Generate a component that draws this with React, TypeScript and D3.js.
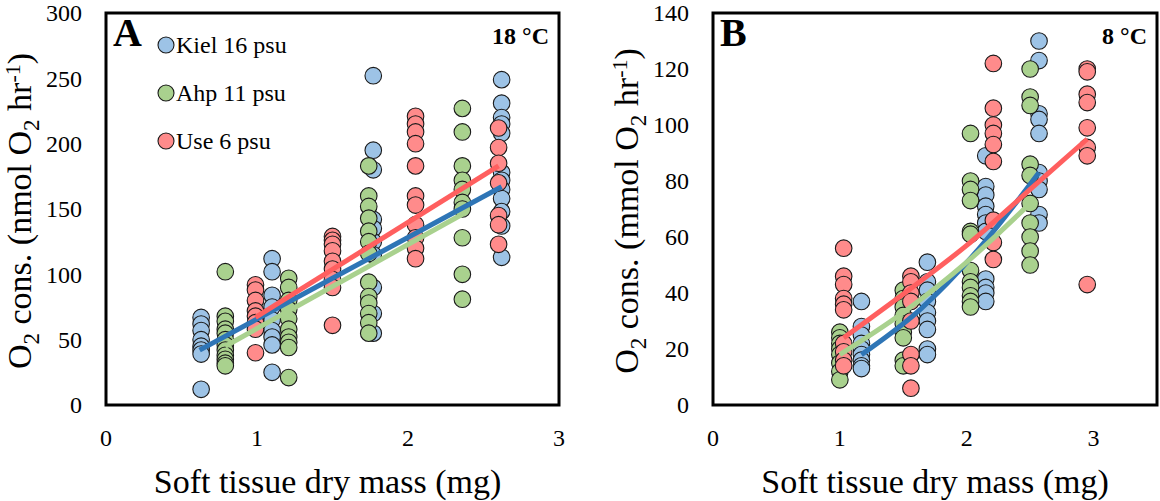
import React from "react";
import * as d3 from "d3";

// ---------- Data: Panel A (18 °C) ----------
const aKielX = [0.63, 1.1, 1.77, 2.62];
const aKielY = [
  [67, 62, 57, 50, 45, 42, 39, 12],
  [112, 102, 84, 75, 65, 57, 52, 46, 25],
  [252, 195, 180, 142, 135, 125, 115, 90, 70, 55],
  [249, 231, 220, 215, 208, 178, 172, 165, 158, 148, 137, 113],
];
const aAhpX = [0.79, 1.21, 1.74, 2.36];
const aAhpY = [
  [102, 68, 64, 58, 55, 50, 46, 42, 38, 35, 32, 30],
  [97, 90, 80, 73, 66, 58, 52, 48, 44, 21],
  [183, 160, 152, 143, 133, 125, 116, 94, 83, 78, 70, 63, 55],
  [227, 209, 183, 172, 165, 155, 150, 128, 100, 81],
];
const aUseX = [0.99, 1.5, 2.05, 2.6];
const aUseY = [
  [92, 88, 80, 72, 68, 63, 58, 40],
  [129, 126, 123, 118, 110, 104, 96, 90, 61],
  [221, 215, 209, 200, 183, 160, 153, 138, 128, 120, 112],
  [212, 197, 185, 170, 145, 138, 123],
];
// trend lines [x, y]
const aKielTrend = [[0.62, 42], [2.62, 167]];
const aAhpTrend = [[0.79, 45], [2.36, 146]];
const aUseTrend = [[0.99, 67], [2.6, 183]];

// ---------- Data: Panel B (8 °C) ----------
const bKielX = [1.17, 1.69, 2.15, 2.57];
const bKielY = [
  [37, 28, 25, 22, 20, 18, 16, 14, 13],
  [51, 44, 41, 37, 33, 30, 27, 20, 18],
  [89, 78, 75, 71, 68, 65, 62, 45, 42, 40, 37],
  [130, 123, 104, 102, 97, 83, 80, 77, 68, 65],
];
const bAhpX = [1.0, 1.5, 2.03, 2.5];
const bAhpY = [
  [26, 24, 22, 20, 18, 15, 12, 9],
  [41, 38, 35, 32, 29, 26, 24, 16, 14],
  [97, 80, 77, 73, 62, 61, 48, 44, 42, 39, 37, 35],
  [120, 110, 107, 86, 82, 72, 65, 60, 55, 50],
];
const bUseX = [1.03, 1.56, 2.21, 2.95];
const bUseY = [
  [56, 46, 43, 38, 36, 34, 22, 19, 16, 14],
  [46, 44, 40, 37, 30, 18, 14, 6],
  [122, 106, 100, 97, 93, 87, 66, 58, 52],
  [120, 119, 111, 108, 99, 92, 89, 43],
];
const bKielTrend = [[1.17, 18], [1.63, 34], [2.1, 56], [2.57, 83]];
const bAhpTrend = [[1.0, 18], [1.5, 33], [2.0, 51], [2.5, 72]];
const bUseTrend = [[1.03, 24], [1.63, 44], [2.0, 57], [2.5, 77], [2.95, 95]];

const xTicks = [0, 1, 2, 3];
const aYTicks = [0, 50, 100, 150, 200, 250, 300];
const bYTicks = [0, 20, 40, 60, 80, 100, 120, 140];
const seriesNames = ["Kiel 16 psu", "Ahp 11 psu", "Use 6 psu"];

const fills = ["#9DC3E6", "#A9D18E", "#FF8B8B"];
const lineColors = ["#2E75B6", "#A9D18E", "#FF5F5F"];
const FONT = "'Liberation Serif', 'Times New Roman', serif";

type Panel = {
  left: number; right: number; top: number; bottom: number;
  xMax: number; yMax: number; yTicks: number[];
  xs: number[][]; ys: number[][][]; trends: number[][][];
  letter: string; temp: string; unit: string;
  legend: boolean; titleShift: number;
};

const panels: Panel[] = [
  {
    left: 106, right: 559, top: 13, bottom: 405, xMax: 3, yMax: 300, yTicks: aYTicks,
    xs: [aKielX, aAhpX, aUseX], ys: [aKielY, aAhpY, aUseY],
    trends: [aKielTrend, aAhpTrend, aUseTrend],
    letter: "A", temp: "18 °C", unit: "nmol", legend: true, titleShift: -5,
  },
  {
    left: 713, right: 1157, top: 13, bottom: 405, xMax: 3.5, yMax: 140, yTicks: bYTicks,
    xs: [bKielX, bAhpX, bUseX], ys: [bKielY, bAhpY, bUseY],
    trends: [bKielTrend, bAhpTrend, bUseTrend],
    letter: "B", temp: "8 °C", unit: "mmol", legend: false, titleShift: 0,
  },
];

function PanelView({ p }: { p: Panel }) {
  const x = d3.scaleLinear().domain([0, p.xMax]).range([p.left, p.right]);
  const y = d3.scaleLinear().domain([0, p.yMax]).range([p.bottom, p.top]);
  const line = d3
    .line<number[]>()
    .x((d) => x(d[0]))
    .y((d) => y(d[1]))
    .curve(d3.curveMonotoneX);
  const midY = (p.top + p.bottom) / 2 + 2;
  const midX = (p.left + p.right) / 2 + p.titleShift;
  return (
    <g>
      {/* y tick labels */}
      {p.yTicks.map((t) => (
        <text key={"y" + t} x={p.left - 24} y={y(t)} dy="0.35em" textAnchor="end"
          fontSize={24} fontFamily={FONT} fill="#000">{t}</text>
      ))}
      {/* x tick labels */}
      {xTicks.map((t) => (
        <text key={"x" + t} x={x(t)} y={446} textAnchor="middle"
          fontSize={24} fontFamily={FONT} fill="#000">{t}</text>
      ))}
      {/* axis titles */}
      <text x={midX} y={493} textAnchor="middle" fontSize={34} fontFamily={FONT}>
        Soft tissue dry mass (mg)
      </text>
      <text transform={`translate(${p.left - 75},${midY}) rotate(-90)`} textAnchor="middle"
        fontSize={34} fontFamily={FONT}>
        <tspan>O</tspan>
        <tspan dy={8} fontSize={23}>2</tspan>
        <tspan dy={-8}>{` cons. (${p.unit} O`}</tspan>
        <tspan dy={8} fontSize={23}>2</tspan>
        <tspan dy={-8}> hr</tspan>
        <tspan dy={-11} fontSize={22}>-1</tspan>
        <tspan dy={11}>)</tspan>
      </text>
      {/* points */}
      {p.xs.map((xsS, si) =>
        xsS.map((xv, gi) =>
          p.ys[si][gi].map((yv, k) => (
            <circle key={`${si}-${gi}-${k}`} cx={x(xv)} cy={y(yv)} r={8.3}
              fill={fills[si]} stroke="#1a1a1a" strokeWidth={1.1} />
          ))
        )
      )}
      {/* trend lines */}
      {p.trends.map((tr, si) => (
        <path key={"t" + si} d={line(tr) || ""} fill="none" stroke={lineColors[si]}
          strokeWidth={5} strokeLinecap="butt" />
      ))}
      {/* frame */}
      <rect x={p.left} y={p.top} width={p.right - p.left} height={p.bottom - p.top}
        fill="none" stroke="#000" strokeWidth={3} />
      {/* labels */}
      <text x={p.left + 7} y={46} fontSize={40} fontWeight="bold" fontFamily={FONT}>{p.letter}</text>
      <text x={p.right - 10} y={44} textAnchor="end" fontSize={24} fontWeight="bold"
        fontFamily={FONT}>{p.temp}</text>
      {p.legend &&
        seriesNames.map((nm, i) => (
          <g key={nm}>
            <circle cx={166} cy={45 + i * 48} r={8} fill={fills[i]} stroke="#1a1a1a" strokeWidth={1.1} />
            <text x={176} y={45 + i * 48} dy="0.35em" fontSize={24} fontFamily={FONT}>{nm}</text>
          </g>
        ))}
    </g>
  );
}

export default function App() {
  return (
    <svg width={1160} height={501} style={{ position: "absolute", left: 0, top: 0, background: "#fff" }}>
      <rect width={1160} height={501} fill="#fff" />
      {panels.map((p) => (
        <PanelView key={p.letter} p={p} />
      ))}
    </svg>
  );
}
